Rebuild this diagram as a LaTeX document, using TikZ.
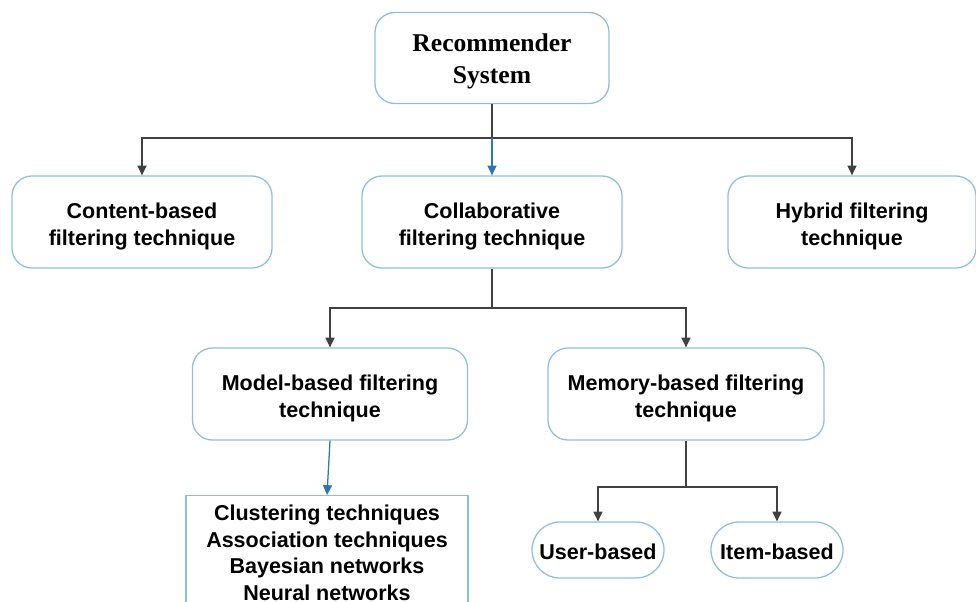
\documentclass[tikz,border=0pt]{standalone}
\usepackage{fontspec}
\setmainfont{Liberation Sans}
\newfontfamily\rsfont{Liberation Serif}
\usetikzlibrary{arrows.meta}
\definecolor{boxblue}{RGB}{140,190,225}
\definecolor{arrblue}{RGB}{46,117,182}
\definecolor{linegray}{RGB}{64,64,64}
\newcommand{\tstrut}[1][17pt]{\rule{0pt}{#1}}
\begin{document}
\begin{tikzpicture}[x=0.025cm,y=-0.025cm,>={Triangle[length=7pt,width=6.5pt]},
	box/.style={draw=boxblue,line width=0.9pt,rounded corners=0.5cm,align=center,inner sep=0pt,minimum height=2.3cm,font=\fontsize{15.3}{19}\selectfont\bfseries},
	pill/.style={box,rounded corners=0.7cm,minimum height=1.4cm,minimum width=3.3cm},
	link/.style={draw=linegray,line width=0.9pt},
	bluelink/.style={draw=arrblue,line width=0.9pt}]
	\useasboundingbox (0,0) rectangle (976,601);
	\node[box,minimum width=5.85cm,minimum height=2.275cm,font=\fontsize{18.2}{22.7}\selectfont\rsfont\bfseries] (rec) at (492,58) {\tstrut[18pt]Recommender\\System};
	\node[box,minimum width=6.5cm] (cb) at (142,222) {\tstrut Content-based\\filtering technique};
	\node[box,minimum width=6.5cm] (collab) at (492,222) {\tstrut Collaborative\\filtering technique};
	\node[box,minimum width=6.2cm] (hyb) at (852,222) {\tstrut Hybrid filtering\\technique};
	\node[box,minimum width=6.875cm] (model) at (330,394) {\tstrut Model-based filtering\\technique};
	\node[box,minimum width=6.9cm] (mem) at (686,394) {\tstrut Memory-based filtering\\technique};
	\node[box,rounded corners=0pt,minimum width=7.05cm,minimum height=3.8cm,anchor=north] (list) at (327,495) {Clustering techniques\\Association techniques\\Bayesian networks\\Neural networks\\[8pt]};
	\node[pill] (user) at (598,550) {\tstrut[13.8pt]User-based};
	\node[pill] (item) at (777,550) {\tstrut[13.8pt]Item-based};
	\coordinate (j1) at (492,138);
	\coordinate (j2) at (492,308);
	\coordinate (j3) at (686,487);
	\draw[link] (rec.south)--(j1);
	\draw[link,->] (j1)-|(cb.north);
	\draw[link,->] (j1)-|(hyb.north);
	\draw[bluelink,->] (j1)--(collab.north);
	\draw[link] (collab.south)--(j2);
	\draw[link,->] (j2)-|(model.north);
	\draw[link,->] (j2)-|(mem.north);
	\draw[bluelink,->] (model.south)--(list.north);
	\draw[link] (mem.south)--(j3);
	\draw[link,->] (j3)-|(user.north);
	\draw[link,->] (j3)-|(item.north);
\end{tikzpicture}
\end{document}
